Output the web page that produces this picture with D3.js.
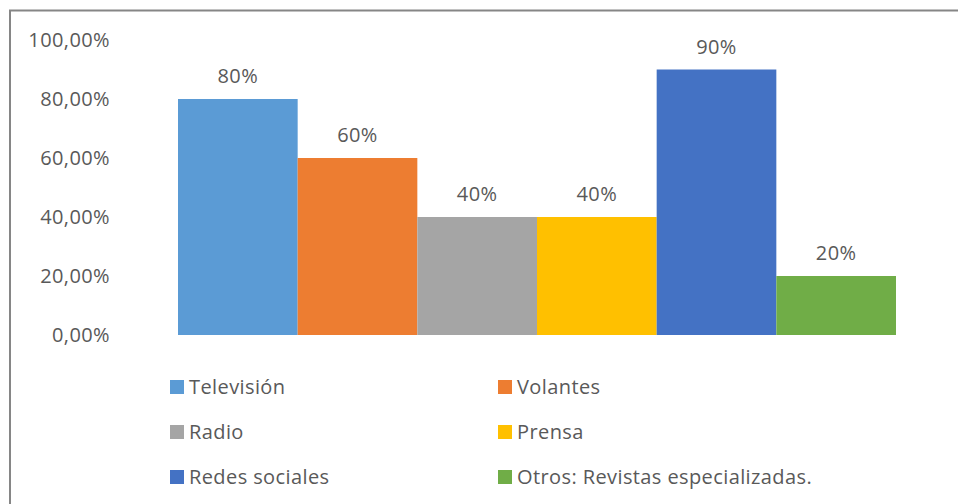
<!DOCTYPE html>
<html><head><meta charset="utf-8">
<script src="https://cdn.jsdelivr.net/npm/d3@7"></script>
<style>body{margin:0;background:#fff}svg{display:block}</style>
</head><body>
<script>
const categories = ["Televisión","Volantes","Radio","Prensa","Redes sociales","Otros: Revistas especializadas."];
const values = [0.80,0.60,0.40,0.40,0.90,0.20];
const colors = ["#5B9BD5","#ED7D31","#A5A5A5","#FFC000","#4472C4","#70AD47"];
const yTicks = [0,0.2,0.4,0.6,0.8,1.0];

const W=958,H=504;
const svg=d3.select("body").append("svg").attr("width",W).attr("height",H);
const font="'Open Sans', sans-serif";
const fs=20;
const ls=0.4;
const txt="#595959";

svg.append("path").attr("d",`M10,${H+2}V10.5H${W+2}`).attr("fill","none").attr("stroke","#868686").attr("stroke-width",2);

const x=d3.scaleBand().domain(categories).range([178,896]).padding(0);
const y=d3.scaleLinear().domain([0,1]).range([335,40]);

const fmt=d=>d3.format(".2f")(d*100).replace(".",",")+"%";
const ax=svg.append("g").attr("transform","translate(110,0)")
  .call(d3.axisLeft(y).tickValues(yTicks).tickFormat(fmt).tickSize(0).tickPadding(0));
ax.select(".domain").remove();
ax.selectAll("text").attr("font-family",font).attr("font-size",fs).attr("letter-spacing",ls).attr("fill",txt);

svg.selectAll("rect.bar").data(categories).join("rect").attr("class","bar")
  .attr("x",d=>x(d)).attr("width",x.bandwidth())
  .attr("y",(d,i)=>y(values[i])).attr("height",(d,i)=>y(0)-y(values[i]))
  .attr("fill",(d,i)=>colors[i]);

svg.selectAll("text.lbl").data(categories).join("text").attr("class","lbl")
  .attr("x",d=>x(d)+x.bandwidth()/2).attr("y",(d,i)=>y(values[i])-23)
  .attr("dy","0.35em").attr("text-anchor","middle")
  .attr("font-family",font).attr("font-size",fs).attr("letter-spacing",ls).attr("fill",txt)
  .text((d,i)=>Math.round(values[i]*100)+"%");

const lg=svg.append("g");
categories.forEach((c,i)=>{
  const col=i%2,row=Math.floor(i/2);
  const lx=col===0?170:498, ly=387+row*45;
  lg.append("rect").attr("x",lx).attr("y",ly-7).attr("width",14).attr("height",14).attr("fill",colors[i]);
  lg.append("text").attr("x",lx+19).attr("y",ly).attr("dy","0.35em")
    .attr("font-family",font).attr("font-size",fs).attr("letter-spacing",ls).attr("fill",txt).text(c);
});
</script>
</body></html>
